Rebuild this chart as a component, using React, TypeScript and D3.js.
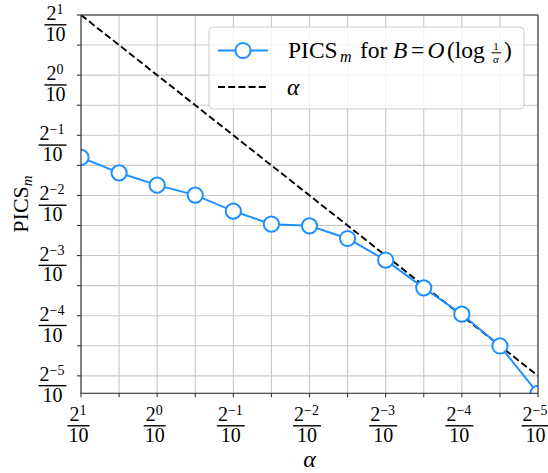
import React from "react";
import * as d3 from "d3";

// alpha values (x): 2^k/10 for k = 1, 0.5, ..., -5
const alphaValues = [
  0.2, 0.141421, 0.1, 0.0707107, 0.05, 0.0353553, 0.025, 0.0176777, 0.0125,
  0.00883883, 0.00625, 0.00441942, 0.003125,
];
// PICS_m values
const picsValues = [
  0.03874, 0.03244, 0.02814, 0.02509, 0.02086, 0.01795, 0.01761, 0.01522,
  0.01185, 0.00862, 0.00636, 0.00441, 0.002556,
];
// major tick values and their numerator exponents
const majorTickValues = [0.2, 0.1, 0.05, 0.025, 0.0125, 0.00625, 0.003125];
const majorTickExponents = ["1", "0", "−1", "−2", "−3", "−4", "−5"];
// all tick / grid positions (major + minor)
const gridValues = alphaValues;

const W = 548;
const H = 473;
const left = 81;
const right = 538;
const top = 15;
const bottom = 393.3;

const SERIF = "'Times New Roman', 'Liberation Serif', 'DejaVu Serif', serif";
const BLUE = "#1E90FF";

const FS = 20; // tick label font size
const SUP = 14;

function numWidth(exp: string) {
  // approximate width of "2^exp"
  const supW = exp.startsWith("−") ? (0.564 + 0.5) * SUP : 0.5 * SUP;
  return 0.5 * FS + supW + 1;
}

function Fraction({ cx, y0, exp }: { cx: number; y0: number; exp: string }) {
  // y0 = numerator baseline
  const nw = numWidth(exp);
  const bw = Math.max(nw, FS) + 2;
  return (
    <g fontFamily={SERIF} fill="#000">
      <text x={cx - nw / 2} y={y0} fontSize={FS}>
        2
        <tspan fontSize={SUP} dy={-6}>
          {exp}
        </tspan>
      </text>
      <rect x={cx - bw / 2} y={y0 + 4.1} width={bw} height={1.4} fill="#000" />
      <text x={cx} y={y0 + 20.8} fontSize={FS} textAnchor="middle">
        10
      </text>
    </g>
  );
}

export default function App() {
  const x = d3.scaleLog().domain([0.2, 0.003125]).range([left, right]);
  const yMin = d3.min(picsValues) as number;
  const y = d3.scaleLog().domain([yMin, 0.2]).range([bottom, top]);

  const line = d3
    .line<number>()
    .x((_, i) => x(alphaValues[i]))
    .y((d) => y(d));

  const alphaLine = d3
    .line<number>()
    .x((d) => x(d))
    .y((d) => y(d));

  const gridColor = "#c8c8c8";
  const spine = "#333";

  return (
    <svg width={W} height={H} style={{ position: "absolute", left: 0, top: 0 }}>
      <defs>
        <clipPath id="plotClip">
          <rect x={left} y={top} width={right - left} height={bottom - top} />
        </clipPath>
      </defs>
      <rect x={0} y={0} width={W} height={H} fill="#fff" />
      {/* grid */}
      <g stroke={gridColor} strokeWidth={1.1}>
        {gridValues.map((v, i) => (
          <line key={"gx" + i} x1={x(v)} x2={x(v)} y1={top} y2={bottom} />
        ))}
        {gridValues.map((v, i) => (
          <line key={"gy" + i} x1={left} x2={right} y1={y(v)} y2={y(v)} />
        ))}
      </g>
      {/* data */}
      <g clipPath="url(#plotClip)">
        <path
          d={alphaLine([alphaValues[0], alphaValues[alphaValues.length - 1]]) || ""}
          fill="none"
          stroke="#000"
          strokeWidth={1.9}
          strokeDasharray="7 3.2"
        />
        <path d={line(picsValues) || ""} fill="none" stroke={BLUE} strokeWidth={2} />
        {picsValues.map((v, i) => (
          <circle
            key={"m" + i}
            cx={x(alphaValues[i])}
            cy={y(v)}
            r={7.6}
            fill="#fff"
            stroke={BLUE}
            strokeWidth={2}
          />
        ))}
      </g>
      {/* spines */}
      <rect
        x={left}
        y={top}
        width={right - left}
        height={bottom - top}
        fill="none"
        stroke={spine}
        strokeWidth={1.1}
      />
      {/* ticks */}
      <g stroke={spine} strokeWidth={1.1}>
        {gridValues.map((v, i) => (
          <line key={"tx" + i} x1={x(v)} x2={x(v)} y1={bottom} y2={bottom + 4} />
        ))}
        {gridValues.map((v, i) => (
          <line key={"ty" + i} x1={left - 4} x2={left} y1={y(v)} y2={y(v)} />
        ))}
      </g>
      {/* x tick labels */}
      {majorTickValues.map((v, i) => (
        <Fraction key={"lx" + i} cx={x(v) - 2.5} y0={421} exp={majorTickExponents[i]} />
      ))}
      {/* y tick labels */}
      {majorTickValues.map((v, i) => {
        const bw = Math.max(numWidth(majorTickExponents[i]), FS) + 2;
        return (
          <Fraction
            key={"ly" + i}
            cx={66.5 - bw / 2}
            y0={y(v) + 5}
            exp={majorTickExponents[i]}
          />
        );
      })}
      {/* axis labels */}
      <text
        x={(left + right) / 2}
        y={467}
        fontFamily={SERIF}
        fontSize={24}
        fontStyle="italic"
        textAnchor="middle"
      >
        α
      </text>
      <text
        transform="translate(28,204) rotate(-90)"
        fontFamily={SERIF}
        fontSize={22}
        textAnchor="middle"
      >
        PICS
        <tspan fontStyle="italic" fontSize={15} dy={4}>
          m
        </tspan>
      </text>
      {/* legend */}
      <g>
        <rect
          x={209}
          y={27}
          width={315}
          height={82}
          rx={4}
          fill="#fff"
          fillOpacity={0.8}
          stroke="#cccccc"
          strokeWidth={1}
        />
        <line x1={218} x2={268} y1={50.5} y2={50.5} stroke={BLUE} strokeWidth={2} />
        <circle cx={243} cy={50.5} r={7.6} fill="#fff" stroke={BLUE} strokeWidth={2} />
        <line
          x1={218}
          x2={268}
          y1={87}
          y2={87}
          stroke="#000"
          strokeWidth={1.9}
          strokeDasharray="7 3.2"
        />
        <g fontFamily={SERIF} fontSize={23.5} fill="#000">
          <text x={288} y={58}>PICS</text>
          <text x={340} y={62} fontSize={16} fontStyle="italic">m</text>
          <text x={360} y={58}>for</text>
          <text x={393} y={58} fontStyle="italic">B</text>
          <text x={411} y={58}>=</text>
          <text x={427.5} y={58} fontStyle="italic">O</text>
          <text x={447} y={58}>(log</text>
          <text x={496} y={50} fontSize={11} textAnchor="middle">1</text>
          <rect x={491.5} y={52.3} width={9.5} height={1} fill="#000" />
          <text x={496} y={62.5} fontSize={11} fontStyle="italic" textAnchor="middle">α</text>
          <text x={504} y={58}>)</text>
          <text x={287} y={95} fontStyle="italic">α</text>
        </g>
      </g>
    </svg>
  );
}
